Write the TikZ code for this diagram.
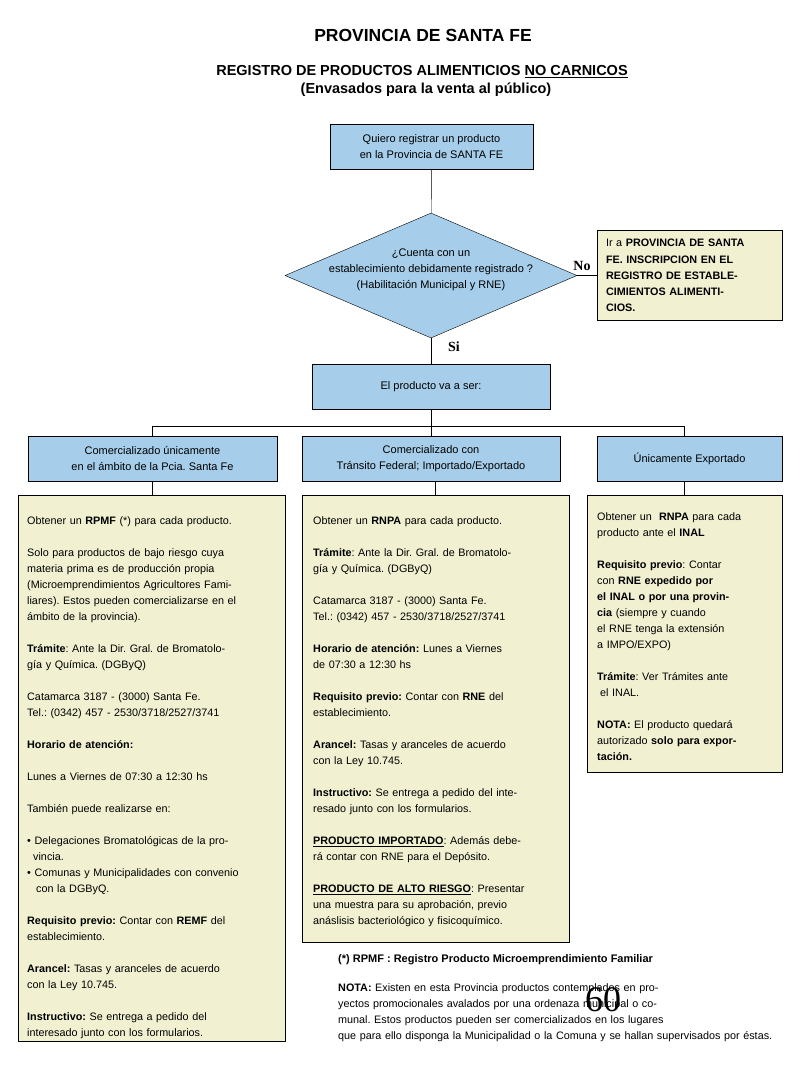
\documentclass[tikz,border=0pt]{standalone}
\usepackage{fontspec}
\setmainfont{Liberation Sans}
\newfontfamily\serifface{Liberation Serif}
\usetikzlibrary{positioning,shapes.geometric}
\definecolor{boxblue}{RGB}{166,206,234}
\definecolor{boxyellow}{RGB}{241,241,210}
\frenchspacing
\tikzset{blue node/.style={draw,fill=boxblue,align=center,inner sep=0pt,minimum height=45pt,font=\fontsize{11}{16}\selectfont},
note node/.style={draw,fill=boxyellow,inner sep=0pt},
text node/.style={anchor=north west,align=left,inner sep=0pt,font=\fontsize{10.8}{16}\selectfont},
}
\begin{document}
\begin{tikzpicture}[x=1pt,y=-1pt]
	\useasboundingbox (0,0) rectangle (800,1066);
	% titles
	\node[font=\fontsize{17.5}{20}\selectfont\bfseries] (title) at (423,35) {PROVINCIA DE SANTA FE};
	\node[font=\fontsize{14.5}{18}\selectfont\bfseries] (sub) at (422,72) {REGISTRO DE PRODUCTOS ALIMENTICIOS \underline{NO CARNICOS}};
	\node[font=\fontsize{14.5}{18}\selectfont\bfseries] (sub2) at (426,90) {(Envasados para la venta al público)};
	
	% flow
	\node[blue node,minimum width=203pt] (1) at (431.5,146.5) {Quiero registrar un producto\\en la Provincia de SANTA FE};
	\node[diamond,draw,fill=boxblue,minimum width=292pt,minimum height=125pt,inner sep=0pt,
	label={[align=center,yshift=6pt,font=\fontsize{11}{16}\selectfont]center:{¿Cuenta con un\\establecimiento debidamente registrado ?\\(Habilitación Municipal y RNE)}}] (2) at (431,275.5) {};
	\node[note node,text width=167pt,inner xsep=9pt,minimum height=90pt,align=left,font=\fontsize{10.8}{16.2}\selectfont] (3) at (689.5,275.5)
	{Ir a \textbf{PROVINCIA DE SANTA}\\\textbf{FE. INSCRIPCION EN EL}\\\textbf{REGISTRO DE ESTABLE-}\\\textbf{CIMIENTOS ALIMENTI-}\\\textbf{CIOS.}};
	\node[blue node,minimum width=238pt] (4) at (431,386.5) {El producto va a ser:};
	\node[blue node,minimum width=249pt] (5) at (152.5,458.5) {Comercializado únicamente\\en el ámbito de la Pcia. Santa Fe};
	\node[blue node,minimum width=258pt] (6) at (431,458.5) {Comercializado con\\Tránsito Federal; Importado/Exportado};
	\node[blue node,minimum width=185pt] (7) at (689.5,458.5) {Únicamente Exportado};
	\coordinate (split) at (431,426);
	
	\node[font=\serifface\bfseries\fontsize{14}{14}\selectfont] (no) at (582,266) {No};
	\node[font=\serifface\bfseries\fontsize{14}{14}\selectfont] (si) at (454,347) {Si};
	
	% info boxes
	\node[note node,minimum width=267pt,minimum height=546pt] (8) at (151.5,768) {};
	\node[note node,minimum width=267pt,minimum height=447pt] (9) at (435.5,718.5) {};
	\node[note node,minimum width=195pt,minimum height=277pt] (10) at (684.5,633.5) {};
	
	\node[text node,text width=257pt] (t8) at (27,513.3) {\strut Obtener un \textbf{RPMF} (*) para cada producto.\\[16pt]
	Solo para productos de bajo riesgo cuya\\
	materia prima es de producción propia\\
	(Microemprendimientos Agricultores Fami-\\
	liares). Estos pueden comercializarse en el\\
	ámbito de la provincia).\\[16pt]
	\textbf{Trámite}: Ante la Dir. Gral. de Bromatolo-\\
	gía y Química. (DGByQ)\\[16pt]
	Catamarca 3187 - (3000) Santa Fe.\\
	Tel.: (0342) 457 - 2530/3718/2527/3741\\[16pt]
	\textbf{Horario de atención:}\\[16pt]
	Lunes a Viernes de 07:30 a 12:30 hs\\[16pt]
	También puede realizarse en:\\[16pt]
	• Delegaciones Bromatológicas de la pro-\\
	\hspace*{6pt}vincia.\\
	• Comunas y Municipalidades con convenio\\
	\hspace*{9pt}con la DGByQ.\\[16pt]
	\textbf{Requisito previo:} Contar con \textbf{REMF} del\\
	establecimiento.\\[16pt]
	\textbf{Arancel:} Tasas y aranceles de acuerdo\\
	con la Ley 10.745.\\[16pt]
	\textbf{Instructivo:} Se entrega a pedido del\\
	interesado junto con los formularios.};
	
	\node[text node,text width=255pt] (t9) at (313,513.3) {\strut Obtener un \textbf{RNPA} para cada producto.\\[16pt]
	\textbf{Trámite}: Ante la Dir. Gral. de Bromatolo-\\
	gía y Química. (DGByQ)\\[16pt]
	Catamarca 3187 - (3000) Santa Fe.\\
	Tel.: (0342) 457 - 2530/3718/2527/3741\\[16pt]
	\textbf{Horario de atención:} Lunes a Viernes\\
	de 07:30 a 12:30 hs\\[16pt]
	\textbf{Requisito previo:} Contar con \textbf{RNE} del\\
	establecimiento.\\[16pt]
	\textbf{Arancel:} Tasas y aranceles de acuerdo\\
	con la Ley 10.745.\\[16pt]
	\textbf{Instructivo:} Se entrega a pedido del inte-\\
	resado junto con los formularios.\\[16pt]
	\underline{\textbf{PRODUCTO IMPORTADO}}: Además debe-\\
	rá contar con RNE para el Depósito.\\[16pt]
	\underline{\textbf{PRODUCTO DE ALTO RIESGO}}: Presentar\\
	una muestra para su aprobación, previo\\
	anáslisis bacteriológico y fisicoquímico.};
	
	\node[text node,text width=184pt] (t10) at (597,509.3) {\strut Obtener un \ \textbf{RNPA} para cada\\
	producto ante el \textbf{INAL}\\[16pt]
	\textbf{Requisito previo}: Contar\\
	con \textbf{RNE expedido por}\\
	\textbf{el INAL o por una provin-}\\
	\textbf{cia} (siempre y cuando\\
	el RNE tenga la extensión\\
	a IMPO/EXPO)\\[16pt]
	\textbf{Trámite}: Ver Trámites ante\\
	\hspace*{3pt}el INAL.\\[16pt]
	\textbf{NOTA:} El producto quedará\\
	autorizado \textbf{solo para expor-}\\
	\textbf{tación.}};
	
	% notes at the bottom
	\node[anchor=base west,inner sep=0pt,font=\fontsize{11}{16}\selectfont\bfseries] (foot) at (338,962) {(*) RPMF : Registro Producto Microemprendimiento Familiar};
	\node[text node,text width=460pt] (nota) at (338,980.3) {\strut\textbf{NOTA:} Existen en esta Provincia productos contemplados en pro-\\
	yectos promocionales avalados por una ordenaza municipal o co-\\
	munal. Estos productos pueden ser comercializados en los lugares\\
	que para ello disponga la Municipalidad o la Comuna y se hallan supervisados por éstas.};
	\node[font=\serifface\fontsize{36}{36}\selectfont] (page) at (603,1000) {60};
	
	% connectors
	\path[draw]
	(1) edge (2)
	(2) edge (3)
	(2) edge (4)
	(4) edge (split);
	\draw (split) -| (5);
	\draw (split) -- (6);
	\draw (split) -| (7.north -| 10);
	\draw (5) -- (5 |- 8.north);
	\draw (6.south -| 9) -- (9);
	\draw (7.south -| 10) -- (10);
\end{tikzpicture}
\end{document}
